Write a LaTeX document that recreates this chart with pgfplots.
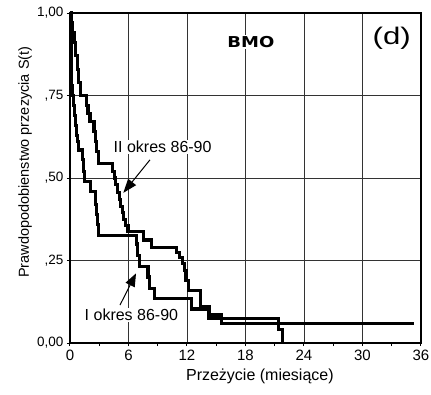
\documentclass[border=0pt]{standalone}
\usepackage{fontspec}
\setmainfont{Liberation Sans}
\newfontfamily\heavyfont{DejaVu Sans}
\usepackage{graphicx}
\usepackage{pgfplots}
\pgfplotsset{compat=1.18}
\usetikzlibrary{arrows.meta}
\begin{document}
\begin{tikzpicture}
\useasboundingbox (-70pt,-51pt) rectangle (361pt,343pt);
\begin{axis}[
 at={(0,0)}, anchor=south west,
 scale only axis, width=351pt, height=330pt,
 xmin=0, xmax=36, ymin=0, ymax=1,
 xtick={0,6,...,36}, minor xtick={3,9,...,33},
 ytick={0,0.25,0.5,0.75,1},
 yticklabels={{0,00},{,25},{,50},{,75},{1,00}},
 /pgf/number format/assume math mode=true,
 xtick pos=bottom, ytick pos=left,
 tick align=outside,
 major tick length=3pt, minor tick length=3pt,
 every tick/.style={black, line width=1pt},
 grid=major,
 major grid style={line width=0.9pt, black!80},
 axis line style={line width=2pt, black},
 xticklabel style={font=\fontsize{15}{18}\selectfont},
 yticklabel style={font=\fontsize{13.5}{16}\selectfont},
 xlabel={Przeżycie (miesiące)},
 xlabel style={at={(axis description cs:0.541,-0.1)}, anchor=center, font=\fontsize{16}{19}\selectfont},
 ylabel={Prawdopodobienstwo przezycia S(t)},
 ylabel style={at={(axis description cs:-0.128,0.548)}, anchor=center, font=\fontsize{14.5}{17}\selectfont},
 clip=false,
]
% I okres 86-90
\addplot[black, line width=3.1pt] coordinates {
(0,1.00) (0.08,1.00) (0.08,0.94) (0.14,0.94) (0.14,0.86) (0.2,0.86) (0.2,0.78) (0.25,0.78) (0.25,0.75)
(0.35,0.75) (0.35,0.72) (0.45,0.72) (0.45,0.69) (0.55,0.69) (0.55,0.66) (0.7,0.66) (0.7,0.63)
(0.8,0.63) (0.8,0.61) (0.9,0.61) (0.9,0.585)
(1.3,0.585) (1.3,0.555) (1.38,0.555) (1.38,0.52) (1.45,0.52) (1.45,0.489)
(2.1,0.489) (2.1,0.458) (2.6,0.458) (2.6,0.42) (2.7,0.42) (2.7,0.39) (2.8,0.39) (2.8,0.36) (2.95,0.36) (2.95,0.327)
(6.85,0.327) (6.85,0.30) (6.95,0.30) (6.95,0.265) (7.1,0.265) (7.1,0.231)
(8.0,0.231) (8.0,0.20) (8.15,0.20) (8.15,0.166) (8.7,0.166) (8.7,0.135)
(12.5,0.135) (12.5,0.103) (14.2,0.103) (14.2,0.073) (21.4,0.073) (21.4,0.04) (21.8,0.04) (21.8,0)
};
% II okres 86-90
\addplot[black, line width=3.1pt] coordinates {
(0,1) (0.15,1) (0.15,0.97) (0.3,0.97) (0.3,0.94) (0.45,0.94) (0.45,0.91) (0.6,0.91) (0.6,0.87)
(0.75,0.87) (0.75,0.83) (0.9,0.83) (0.9,0.79) (1.05,0.79) (1.05,0.75) (1.65,0.75) (1.65,0.72)
(1.85,0.72) (1.85,0.695) (2.05,0.695) (2.05,0.67) (2.46,0.67) (2.46,0.64) (2.6,0.64) (2.6,0.61)
(2.75,0.61) (2.75,0.58) (2.9,0.58) (2.9,0.545) (4.4,0.545)
(4.4,0.52) (4.55,0.52) (4.55,0.50) (4.7,0.50) (4.7,0.48) (4.9,0.48) (4.9,0.455) (5.05,0.455)
(5.05,0.435) (5.2,0.435) (5.2,0.415) (5.35,0.415) (5.35,0.395) (5.5,0.395) (5.5,0.375) (5.7,0.375)
(5.7,0.355) (5.95,0.355) (5.95,0.337)
(7.5,0.337) (7.5,0.312) (8.4,0.312) (8.4,0.29) (10.9,0.29) (10.9,0.275) (11.2,0.275) (11.2,0.26)
(11.5,0.26) (11.5,0.24) (11.7,0.24) (11.7,0.22) (11.9,0.22) (11.9,0.19) (12.2,0.19) (12.2,0.16)
(13.4,0.16) (13.4,0.11) (14.3,0.11) (14.3,0.085) (15.5,0.085) (15.5,0.06) (35.3,0.06)
};
\node[fill=white, inner sep=1pt, font=\fontsize{15}{18}\heavyfont\bfseries] at (axis cs:18.56,0.912) {\scalebox{1.2}[1]{BMO}};
\node[font=\fontsize{24}{28}\selectfont] at (axis cs:33.0,0.924) {\scalebox{1.3}[1]{(d)}};
\node[fill=white, inner sep=1pt, font=\fontsize{16}{19}\selectfont] at (axis cs:9.5,0.594) {II okres 86-90};
\node[fill=white, inner sep=1pt, font=\fontsize{16}{19}\selectfont] at (axis cs:6.3,0.085) {I okres 86-90};
\draw[-{Triangle[length=14pt,width=10pt]}, line width=1pt] (axis cs:8.2,0.555) -- (axis cs:5.47,0.455);
\draw[-{Triangle[length=13pt,width=10pt]}, line width=1pt] (axis cs:5.13,0.115) -- (axis cs:6.77,0.211);
\end{axis}
\end{tikzpicture}
\end{document}
